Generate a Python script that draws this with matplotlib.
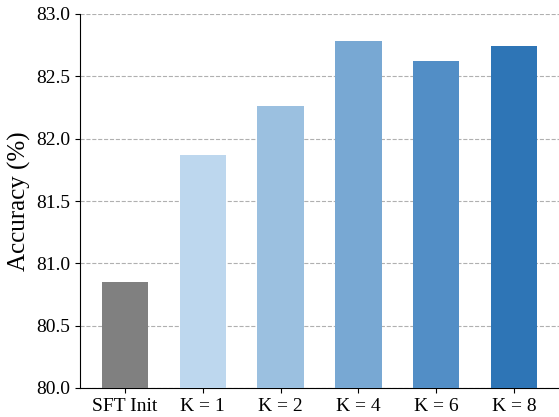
import matplotlib
matplotlib.use("Agg")
import matplotlib.pyplot as plt
import numpy as np

plt.rcParams['font.family'] = ['Liberation Serif', 'DejaVu Serif']

labels = ["SFT Init", "K = 1", "K = 2", "K = 4", "K = 6", "K = 8"]
accuracy = [80.85, 81.87, 82.26, 82.78, 82.62, 82.74]
colors = ["#808080", "#bdd7ee", "#9bc0e0", "#78a8d3", "#528ec6", "#2e75b6"]

fig = plt.figure(figsize=(5.59, 4.17), dpi=100)
ax = fig.add_axes([80 / 559, 29 / 417, 479 / 559, 374 / 417])

x = np.arange(len(labels))
ax.bar(x, accuracy, width=0.6, color=colors, zorder=3)

ax.set_ylim(80.0, 83.0)
ax.set_xlim(-0.58, 5.58)
ax.set_yticks(np.arange(80.0, 83.01, 0.5))
ax.set_yticklabels([f"{v:.1f}" for v in np.arange(80.0, 83.01, 0.5)])
ax.set_xticks(x)
ax.set_xticklabels(labels)
ax.tick_params(labelsize=14)
ax.set_ylabel("Accuracy (%)", fontsize=18)

ax.yaxis.grid(True, linestyle="--", color="#b0b0b0", linewidth=0.8, zorder=0)
ax.spines["top"].set_visible(False)
ax.spines["right"].set_visible(False)

fig.savefig("out.png", dpi=100)
